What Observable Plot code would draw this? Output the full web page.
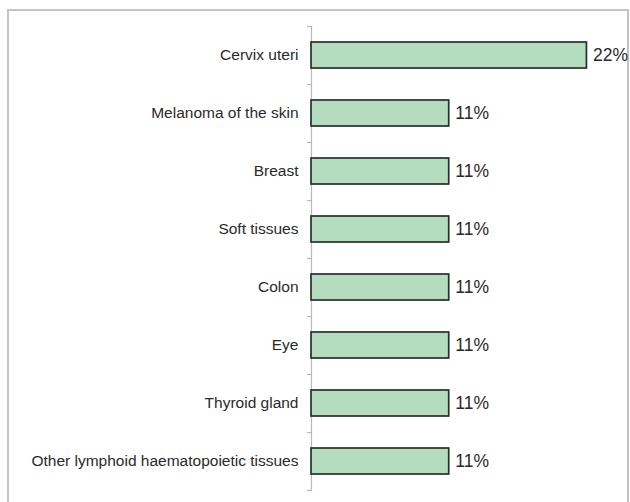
<!DOCTYPE html>
<html>
<head>
<meta charset="utf-8">
<script src="https://cdn.jsdelivr.net/npm/d3@7"></script>
<script src="https://cdn.jsdelivr.net/npm/@observablehq/plot@0.6"></script>
<style>
  html, body { margin: 0; padding: 0; background: #fff; overflow: hidden; }
  #wrap { position: relative; width: 630px; height: 502px; }
  #frame { position: absolute; left: 7px; top: 9px; width: 622px; height: 520px; border: 2px solid #c4c4c4; box-sizing: border-box; }
  #chart { position: absolute; left: 0; top: 0; }
</style>
</head>
<body>
<div id="wrap"><div id="frame"></div><div id="chart"></div></div>
<script>
const categories = [
  "Cervix uteri",
  "Melanoma of the skin",
  "Breast",
  "Soft tissues",
  "Colon",
  "Eye",
  "Thyroid gland",
  "Other lymphoid haematopoietic tissues"
];
const values = [22, 11, 11, 11, 11, 11, 11, 11];
const valueLabels = ["22%", "11%", "11%", "11%", "11%", "11%", "11%", "11%"];

const data = categories.map((c, i) => ({category: c, value: values[i], label: valueLabels[i]}));
const lastCat = categories[categories.length - 1];

const chart = Plot.plot({
  width: 630,
  height: 502,
  marginLeft: 311,
  marginRight: 6,
  marginTop: 26,
  marginBottom: 11,
  style: {fontFamily: "Liberation Sans, Arial, sans-serif", background: "transparent"},
  x: {domain: [0, 25], axis: null},
  y: {domain: categories, paddingInner: 0.55, paddingOuter: 0.275, label: null},
  marks: [
    Plot.axisY({tickSize: 0, tickPadding: 13, fontSize: 15.5, fill: "#2a2a2a", label: null, style: {wordSpacing: "-2px"}}),
    Plot.ruleX([0], {stroke: "#b8b8b8", strokeWidth: 1.2}),
    Plot.ruleY(categories, {y: d => d, x1: -0.32, x2: 0, dy: -29, stroke: "#b8b8b8", strokeWidth: 1.2}),
    Plot.ruleY([lastCat], {y: d => d, x1: -0.32, x2: 0, dy: 29, stroke: "#b8b8b8", strokeWidth: 1.2}),
    Plot.barX(data, {y: "category", x: "value", fill: "#b4dcbf", stroke: "#26302a", strokeWidth: 1.7}),
    Plot.text(data, {y: "category", x: "value", text: "label", textAnchor: "start", dx: 6, fontSize: 17.5, fill: "#2a2a2a"})
  ]
});
document.getElementById("chart").appendChild(chart);
</script>
</body>
</html>
